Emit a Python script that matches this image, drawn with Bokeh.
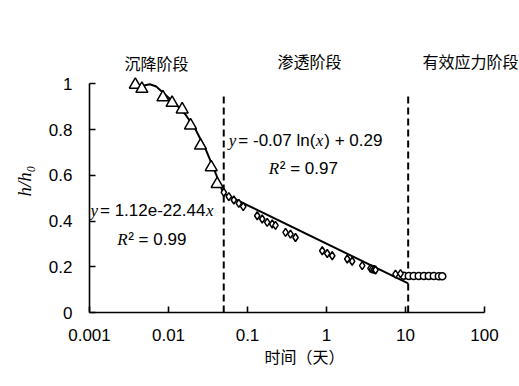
from bokeh.plotting import figure
from bokeh.models import FixedTicker, Label, Range1d
from bokeh.embed import file_html
from bokeh.resources import INLINE

# ---- data ----
tri_x = [0.0038, 0.0046, 0.0085, 0.0111, 0.0149, 0.0190, 0.0254, 0.0347, 0.0413]
tri_y = [0.996, 0.978, 0.941, 0.917, 0.888, 0.818, 0.730, 0.635, 0.562]

dia_x = [0.0501, 0.0580, 0.0671, 0.0776, 0.0883, 0.1327, 0.1535, 0.1775, 0.2055, 0.226,
         0.303, 0.350, 0.405, 0.883, 1.021, 1.181, 1.83, 2.11, 2.83, 3.6, 3.78, 4.0, 4.17,
         7.46, 8.64]
dia_y = [0.525, 0.507, 0.492, 0.477, 0.463, 0.423, 0.409, 0.394, 0.387, 0.381,
         0.350, 0.343, 0.328, 0.270, 0.258, 0.248, 0.234, 0.224, 0.205, 0.193, 0.190, 0.188, 0.186,
         0.168, 0.170]

cir_x = [9.5, 11.0, 12.7, 14.7, 17.1, 19.7, 22.8, 26.4, 29.2]
cir_y = [0.161, 0.160, 0.160, 0.160, 0.160, 0.160, 0.160, 0.158, 0.158]

# exponential fit curve (as drawn)
fit1_x = [0.0049, 0.0058, 0.0070, 0.0091, 0.0123, 0.0164, 0.0220, 0.0294, 0.0394, 0.0484]
fit1_y = [0.993, 0.998, 0.988, 0.952, 0.912, 0.866, 0.800, 0.715, 0.610, 0.530]

# logarithmic fit line (as drawn)
fit2_x = [0.05, 10.8]
fit2_y = [0.52, 0.127]

# stage boundaries
bound_x = [0.05, 10.8]
bound_top = 0.96

x_ticks = [0.001, 0.01, 0.1, 1, 10, 100]
x_tick_labels = ["0.001", "0.01", "0.1", "1", "10", "100"]
y_ticks = [0, 0.2, 0.4, 0.6, 0.8, 1]
y_tick_labels = ["0", "0.2", "0.4", "0.6", "0.8", "1"]

stage_names = ["沉降阶段", "渗透阶段", "有效应力阶段"]

SANS = "Liberation Sans"
SERIF = "Liberation Serif"
CJK = "Noto Sans CJK SC"

p = figure(width=519, height=386, x_axis_type="log",
           x_range=Range1d(0.001, 277), y_range=Range1d(0, 1.15),
           output_backend="svg", toolbar_location=None,
           min_border_left=89, min_border_right=0, min_border_top=49, min_border_bottom=74)
p.outline_line_color = None
p.xgrid.visible = False
p.ygrid.visible = False
p.background_fill_color = "white"

# axes
for ax in (p.xaxis[0], p.yaxis[0]):
    ax.axis_line_width = 1.6
    ax.axis_line_color = "black"
    ax.major_tick_line_color = "black"
    ax.major_tick_line_width = 1.6
    ax.major_tick_in = 6
    ax.major_tick_out = 0
    ax.minor_tick_line_color = None
    ax.major_label_text_font = SANS
    ax.major_label_text_font_size = "17px"
    ax.major_label_text_color = "black"
    ax.axis_label_text_color = "black"

p.xaxis[0].ticker = FixedTicker(ticks=x_ticks, minor_ticks=[])
p.xaxis[0].major_label_overrides = {t: l for t, l in zip(x_ticks, x_tick_labels)}
p.xaxis[0].major_label_standoff = 16
p.xaxis[0].bounds = (0.001, 100)
p.xaxis[0].axis_label = "时间（天）"
p.xaxis[0].axis_label_text_font = CJK
p.xaxis[0].axis_label_text_font_size = "16px"
p.xaxis[0].axis_label_text_font_style = "normal"
p.xaxis[0].axis_label_standoff = 0

p.yaxis[0].ticker = FixedTicker(ticks=y_ticks, minor_ticks=[])
p.yaxis[0].major_label_overrides = {t: l for t, l in zip(y_ticks, y_tick_labels)}
p.yaxis[0].major_label_standoff = 17
p.yaxis[0].bounds = (0, 1)
p.yaxis[0].axis_label = "h/h₀"
p.yaxis[0].axis_label_text_font = SERIF
p.yaxis[0].axis_label_text_font_size = "19px"
p.yaxis[0].axis_label_text_font_style = "italic"
p.yaxis[0].axis_label_standoff = 11

# stage boundaries
p.segment(x0=bound_x, y0=[0] * len(bound_x), x1=bound_x, y1=[bound_top] * len(bound_x),
          line_color="black", line_width=2, line_dash="7 4")

# fits
p.line(fit1_x, fit1_y, line_color="black", line_width=2)
p.line(fit2_x, fit2_y, line_color="black", line_width=2)

# data markers
p.scatter(cir_x, cir_y, marker="circle", size=7, fill_color="white",
          line_color="black", line_width=1.5)
p.scatter(dia_x, dia_y, marker="diamond", size=8, fill_color="white",
          line_color="black", line_width=1.5)
p.scatter(tri_x, tri_y, marker="triangle", size=12, fill_color="white",
          line_color="black", line_width=1.5)

# stage names
for name, sx, sy in zip(stage_names, [0.00705, 0.61, 66.5], [1.093, 1.101, 1.101]):
    p.add_layout(Label(x=sx, y=sy, text=name, text_font=CJK, text_font_size="16px",
                       text_align="center", text_baseline="middle", text_color="black"))


def eq(parts, x, y):
    for txt, off, italic in parts:
        p.add_layout(Label(x=x, y=y, x_offset=off, text=txt,
                           text_font=SERIF if italic else SANS,
                           text_font_style="italic" if italic else "normal",
                           text_font_size="17px", text_align="left",
                           text_baseline="middle", text_color="black"))


eq([("y", 0, True), ("= -0.07 ln(", 9.5, False), ("x", 87, True), (") + 0.29", 95.5, False)],
   0.058, 0.754)
eq([("R", 0, True), ("² = 0.97", 11, False)], 0.186, 0.628)
eq([("y", 0, True), ("= 1.12e-22.44", 9.5, False), ("x", 115.5, True)], 0.00103, 0.445)
eq([("R", 0, True), ("² = 0.99", 11, False)], 0.002243, 0.321)

open("out.html", "w").write(file_html(p, INLINE))
